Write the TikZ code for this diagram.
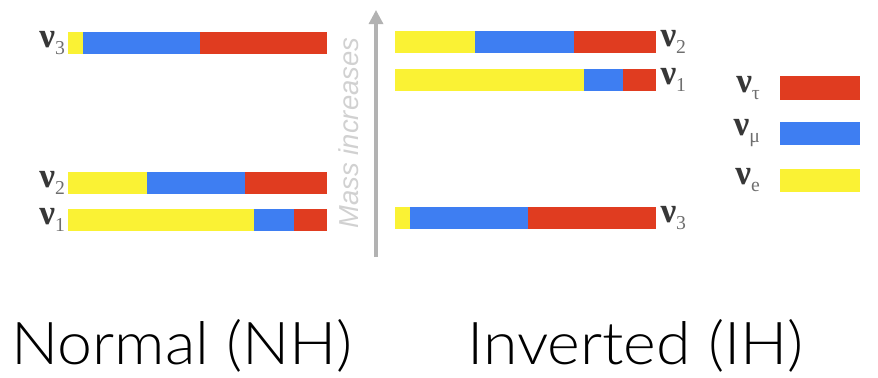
\documentclass[tikz,border=0pt]{standalone}
\usepackage{fontspec}
\setmainfont{Lato}
\newfontfamily\titlefont{Lato Light}
\newfontfamily\nufont{Liberation Serif}
\newfontfamily\massfont{Liberation Sans}
\usetikzlibrary{positioning,arrows.meta}

\definecolor{nuyellow}{RGB}{250,242,52}
\definecolor{nublue}{RGB}{62,126,242}
\definecolor{nured}{RGB}{224,60,32}
\definecolor{nutext}{RGB}{55,55,55}
\definecolor{nusub}{RGB}{110,110,110}

% nu with a flavour / mass index
\newcommand{\flav}[1]{{\nufont\bfseries\fontsize{25}{25}\selectfont ν}\raisebox{-0.5em}{\color{nusub}\nufont\fontsize{14}{14}\selectfont #1}}
% mass state: name, e/mu/tau boundaries, top edge
\newcommand{\flavbar}[6]{%
  \fill[nuyellow] (#2,#6) rectangle (#3,#6+22);
  \fill[nublue] (#3,#6) rectangle (#4,#6+22);
  \fill[nured] (#4,#6) rectangle (#5,#6+22);
  \coordinate (#1w) at (#2,#6+11);
  \coordinate (#1e) at (#5,#6+11);
}

\tikzset{
  lbl/.style={inner sep=0pt, text=nutext},
  legbox/.style={inner sep=0pt, minimum width=56.7pt, minimum height=17pt},
  massarrow/.style={draw=black!30, line width=2.2pt, -{Triangle[length=10pt,width=10pt]}},
  title/.style={inner sep=0pt, anchor=base west, font=\titlefont\fontsize{42}{42}\selectfont}
}

\begin{document}
\begin{tikzpicture}[x=0.025cm, y=-0.025cm]
    \useasboundingbox (0,0) rectangle (878,377);
    %normal ordering
    \flavbar{na}{68}{83}{200}{327}{32}
    \flavbar{nb}{68}{147}{245}{327}{172}
    \flavbar{nc}{68}{254}{294}{327}{209}
    \node[lbl, left=2pt of naw] (n3) {\flav{3}};
    \node[lbl, left=2pt of nbw] (n2) {\flav{2}};
    \node[lbl, left=2pt of ncw] (n1) {\flav{1}};
    %inverted ordering
    \flavbar{ia}{395}{475}{574}{656}{31}
    \flavbar{ib}{395}{584}{623}{656}{69}
    \flavbar{ic}{395}{410}{528}{656}{207}
    \node[lbl, right=3pt of iae] (i2) {\flav{2}};
    \node[lbl, right=3pt of ibe] (i1) {\flav{1}};
    \node[lbl, right=3pt of ice] (i3) {\flav{3}};
    %mass axis
    \coordinate (mlow) at (376,257);
    \coordinate (mhigh) at (376,10);
    \draw[massarrow] (mlow) -- (mhigh);
    \node[rotate=90, inner sep=0pt, text=black!18, font=\massfont\itshape\fontsize{19.5}{19.5}\selectfont] (mass) at (349,133) {Mass increases};
    %flavour key
    \node[legbox, fill=nured] (ktau) at (820,88) {};
    \node[legbox, fill=nublue] (kmu) at (820,133.5) {};
    \node[legbox, fill=nuyellow] (ke) at (820,180.5) {};
    \node[lbl, left=14pt of ktau] (ltau) {\flav{τ}};
    \node[lbl, left=14pt of kmu] (lmu) {\flav{μ}};
    \node[lbl, left=14pt of ke] (le) {\flav{e}};
    %orderings
    \node[title, xscale=1.06, transform shape] (nh) at (11,364) {Normal (NH)};
    \node[title, xscale=1.06, transform shape] (ih) at (467,364) {Inverted (IH)};
\end{tikzpicture}
\end{document}
